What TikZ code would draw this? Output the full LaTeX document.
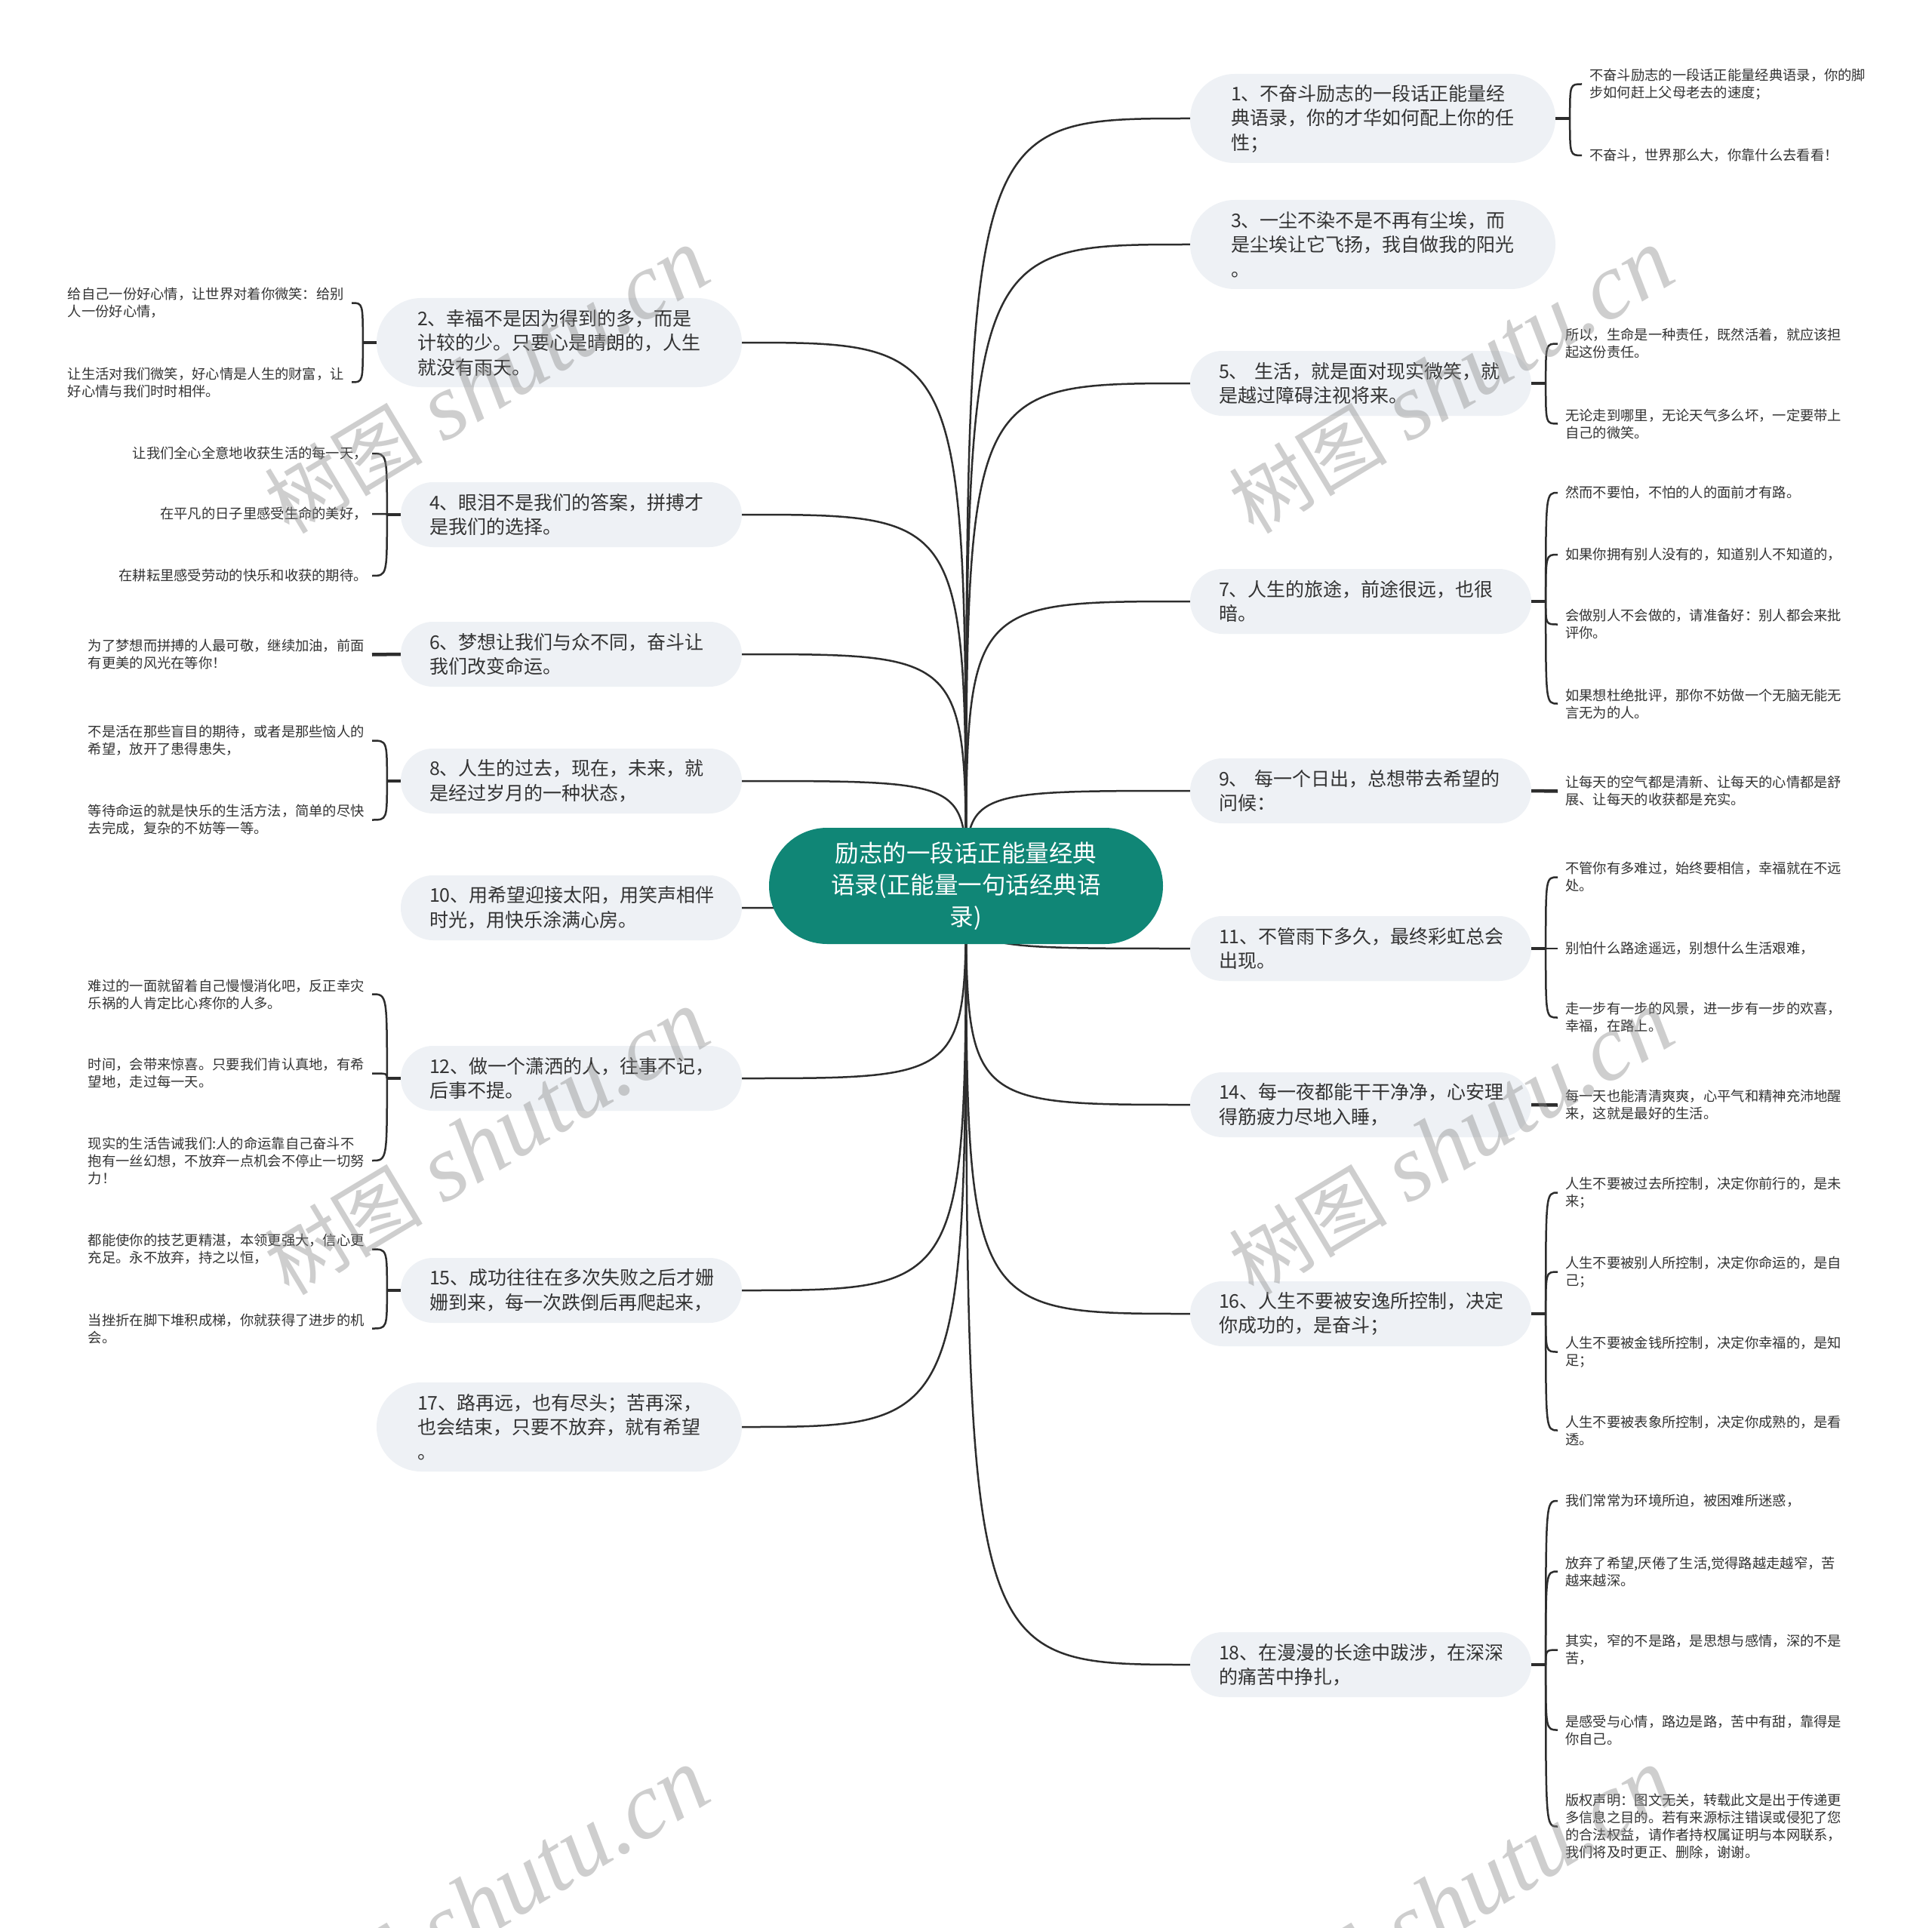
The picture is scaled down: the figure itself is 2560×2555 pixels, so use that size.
\documentclass[tikz,border=0pt]{standalone}
\usepackage{fontspec}
\setmainfont{Noto Sans CJK SC}
\newfontfamily\wmserif{Liberation Serif}
\usetikzlibrary{calc}
\pgfdeclarelayer{bg}
\pgfsetlayers{bg,main}
\definecolor{rootc}{RGB}{16,134,118}
\definecolor{boxc}{RGB}{238,241,245}
\definecolor{txtc}{RGB}{51,51,51}
\definecolor{linec}{RGB}{45,45,45}
\definecolor{wmc}{RGB}{140,140,140}
\tikzset{
  root/.style={fill=rootc, rounded corners=77pt, minimum width=522pt, minimum height=154pt,
    text=white, align=center, inner sep=0pt, font=\fontsize{31.5}{42}\selectfont},
  br2/.style={fill=boxc, rounded corners=43pt, text width=376pt, inner xsep=38pt, inner ysep=0pt,
    minimum height=86pt, align=left, text=txtc, font=\fontsize{25}{32.5}\selectfont},
  br3/.style={br2, rounded corners=59pt, inner xsep=54pt, minimum height=118pt},
  leafr/.style={text width=370pt, align=left, inner xsep=10pt, inner ysep=0pt, anchor=west,
    text=txtc, font=\fontsize{18.3}{23}\selectfont},
  leafl/.style={leafr, anchor=east, inner xsep=6pt},
  leafone/.style={inner xsep=6pt, inner ysep=0pt, anchor=east, text=txtc, font=\fontsize{18.3}{23}\selectfont},
  conn/.style={draw=linec, line width=2.5pt},
  stub/.style={draw=linec, line width=4.5pt},
  hook/.style={draw=linec, line width=2.5pt},
  wm/.style={text=wmc, opacity=0.42, rotate=31, inner sep=0pt}
}
\begin{document}
\begin{tikzpicture}[x=1pt,y=-1pt]
\useasboundingbox (0,0) rectangle (2560,2555);
\clip (0,0) rectangle (2560,2555);
\begin{pgfonlayer}{bg}
\fill[white] (0,0) rectangle (2560,2555);
\end{pgfonlayer}

% root
\node[root] (root) at (1280,1174) {励志的一段话正能量经典\\语录(正能量一句话经典语\\录)};

% right branches
\node[br3] (b1) at (1819,157) {1、不奋斗励志的一段话正能量经\\典语录，你的才华如何配上你的任\\性；};
\node[br3] (b3) at (1819,324) {3、一尘不染不是不再有尘埃，而\\是尘埃让它飞扬，我自做我的阳光\\。};
\node[br2] (b5) at (1803,508) {5、~生活，就是面对现实微笑，就\\是越过障碍注视将来。};
\node[br2] (b7) at (1803,797) {7、人生的旅途，前途很远，也很\\暗。};
\node[br2] (b9) at (1803,1048) {9、~每一个日出，总想带去希望的\\问候：};
\node[br2] (b11) at (1803,1257) {11、不管雨下多久，最终彩虹总会\\出现。};
\node[br2] (b14) at (1803,1464) {14、每一夜都能干干净净，心安理\\得筋疲力尽地入睡，};
\node[br2] (b16) at (1803,1741) {16、人生不要被安逸所控制，决定\\你成功的，是奋斗；};
\node[br2] (b18) at (1803,2206) {18、在漫漫的长途中跋涉，在深深\\的痛苦中挣扎，};

% left branches
\node[br3] (b2) at (741,454) {2、幸福不是因为得到的多，而是\\计较的少。只要心是晴朗的，人生\\就没有雨天。};
\node[br2] (b4) at (757,682) {4、眼泪不是我们的答案，拼搏才\\是我们的选择。};
\node[br2] (b6) at (757,867) {6、梦想让我们与众不同，奋斗让\\我们改变命运。};
\node[br2] (b8) at (757,1035) {8、人生的过去，现在，未来，就\\是经过岁月的一种状态，};
\node[br2] (b10) at (757,1203) {10、用希望迎接太阳，用笑声相伴\\时光，用快乐涂满心房。};
\node[br2] (b12) at (757,1429) {12、做一个潇洒的人，往事不记，\\后事不提。};
\node[br2] (b15) at (757,1710) {15、成功往往在多次失败之后才姗\\姗到来，每一次跌倒后再爬起来，};
\node[br3] (b17) at (741,1891) {17、路再远，也有尽头；苦再深，\\也会结束，只要不放弃，就有希望\\。};

% right leaves
\node[leafr] (l1a) at (2096,111.5) {不奋斗励志的一段话正能量经典语录，你的脚\\步如何赶上父母老去的速度；};
\node[leafr] (l1b) at (2096,206) {不奋斗，世界那么大，你靠什么去看看！};
\node[leafr] (l5a) at (2064,455.5) {所以，生命是一种责任，既然活着，就应该担\\起这份责任。};
\node[leafr] (l5b) at (2064,561.5) {无论走到哪里，无论天气多么坏，一定要带上\\自己的微笑。};
\node[leafr] (l7a) at (2064,653) {然而不要怕，不怕的人的面前才有路。};
\node[leafr] (l7b) at (2064,735) {如果你拥有别人没有的，知道别人不知道的，};
\node[leafr] (l7c) at (2064,827.5) {会做别人不会做的，请准备好：别人都会来批\\评你。};
\node[leafr] (l7d) at (2064,932.5) {如果想杜绝批评，那你不妨做一个无脑无能无\\言无为的人。};
\node[leafr] (l9a) at (2064,1048.5) {让每天的空气都是清新、让每天的心情都是舒\\展、让每天的收获都是充实。};
\node[leafr] (l11a) at (2064,1162.5) {不管你有多难过，始终要相信，幸福就在不远\\处。};
\node[leafr] (l11b) at (2064,1257) {别怕什么路途遥远，别想什么生活艰难，};
\node[leafr] (l11c) at (2064,1348.5) {走一步有一步的风景，进一步有一步的欢喜，\\幸福，在路上。};
\node[leafr] (l14a) at (2064,1464.5) {每一天也能清清爽爽，心平气和精神充沛地醒\\来，这就是最好的生活。};
\node[leafr] (l16a) at (2064,1580.5) {人生不要被过去所控制，决定你前行的，是未\\来；};
\node[leafr] (l16b) at (2064,1685.5) {人生不要被别人所控制，决定你命运的，是自\\己；};
\node[leafr] (l16c) at (2064,1791.5) {人生不要被金钱所控制，决定你幸福的，是知\\足；};
\node[leafr] (l16d) at (2064,1895.5) {人生不要被表象所控制，决定你成熟的，是看\\透。};
\node[leafr] (l18a) at (2064,1989) {我们常常为环境所迫，被困难所迷惑，};
\node[leafr] (l18b) at (2064,2082.5) {放弃了希望,厌倦了生活,觉得路越走越窄，苦\\越来越深。};
\node[leafr] (l18c) at (2064,2186.5) {其实，窄的不是路，是思想与感情，深的不是\\苦，};
\node[leafr] (l18d) at (2064,2292.5) {是感受与心情，路边是路，苦中有甜，靠得是\\你自己。};
\node[leafr] (l18e) at (2064,2420.5) {版权声明：图文无关，转载此文是出于传递更\\多信息之目的。若有来源标注错误或侵犯了您\\的合法权益，请作者持权属证明与本网联系，\\我们将及时更正、删除，谢谢。};

% left leaves
\node[leafl] (l2a) at (466,401.5) {给自己一份好心情，让世界对着你微笑：给别\\人一份好心情，};
\node[leafl] (l2b) at (466,506.5) {让生活对我们微笑，好心情是人生的财富，让\\好心情与我们时时相伴。};
\node[leafone] (l4a) at (493,601) {让我们全心全意地收获生活的每一天，};
\node[leafone] (l4b) at (493,681) {在平凡的日子里感受生命的美好，};
\node[leafone] (l4c) at (493,763) {在耕耘里感受劳动的快乐和收获的期待。};
\node[leafl] (l6a) at (493,867.5) {为了梦想而拼搏的人最可敬，继续加油，前面\\有更美的风光在等你！};
\node[leafl] (l8a) at (493,981.5) {不是活在那些盲目的期待，或者是那些恼人的\\希望，放开了患得患失，};
\node[leafl] (l8b) at (493,1086.5) {等待命运的就是快乐的生活方法，简单的尽快\\去完成，复杂的不妨等一等。};
\node[leafl] (l12a) at (493,1317.5) {难过的一面就留着自己慢慢消化吧，反正幸灾\\乐祸的人肯定比心疼你的人多。};
\node[leafl] (l12b) at (493,1422.5) {时间，会带来惊喜。只要我们肯认真地，有希\\望地，走过每一天。};
\node[leafl] (l12c) at (493,1538) {现实的生活告诫我们:人的命运靠自己奋斗不\\抱有一丝幻想，不放弃一点机会不停止一切努\\力！};
\node[leafl] (l15a) at (493,1655.5) {都能使你的技艺更精湛，本领更强大，信心更\\充足。永不放弃，持之以恒，};
\node[leafl] (l15b) at (493,1760.5) {当挫折在脚下堆积成梯，你就获得了进步的机\\会。};

\begin{pgfonlayer}{bg}
% root connectors
\foreach \b in {1,3,5,7,9,11,14,16,18}
  \draw[conn] (root.center) .. controls (root.center |- b\b.west) .. (b\b.west);
\foreach \b in {2,4,6,8,10,12,15,17}
  \draw[conn] (root.center) .. controls (root.center |- b\b.east) .. (b\b.east);
\end{pgfonlayer}

% stems
\foreach \b in {1,5,7,11,16,18} {
  \coordinate (s\b) at ($(b\b.east)+(19,0)$);
  \draw[stub] (b\b.east) -- (s\b);
}
\foreach \b in {2,4,8,12,15} {
  \coordinate (s\b) at ($(b\b.west)+(-18,0)$);
  \draw[stub] (b\b.west) -- (s\b);
}
% single leaves
\draw[stub] (b9.east) -- (l9a.west);
\draw[stub] (b14.east) -- (l14a.west);
\draw[stub] (b6.west) -- (l6a.east);

% hooks right
\foreach \b/\l in {1/1a,1/1b,5/5a,5/5b,7/7a,7/7b,7/7c,7/7d,11/11a,11/11b,11/11c,16/16a,16/16b,16/16c,16/16d,18/18a,18/18b,18/18c,18/18d,18/18e}
  \draw[hook] (s\b) .. controls (s\b |- l\l.west) and (s\b |- l\l.west) .. (l\l.west);
% hooks left
\foreach \b/\l in {2/2a,2/2b,4/4a,4/4b,4/4c,8/8a,8/8b,12/12a,12/12b,12/12c,15/15a,15/15b}
  \draw[hook] (s\b) .. controls (s\b |- l\l.east) and (s\b |- l\l.east) .. (l\l.east);

% watermarks
\foreach \n/\x/\y in {1/645/506,2/1923/506,3/645/1515,4/1923/1515,5/645/2520,6/1923/2520}
  \node[wm] (wm\n) at (\x,\y) {\fontsize{105}{110}\selectfont 树图\hspace{28pt}{\wmserif\itshape\fontsize{125}{130}\selectfont shutu.cn}};
\end{tikzpicture}
\end{document}
